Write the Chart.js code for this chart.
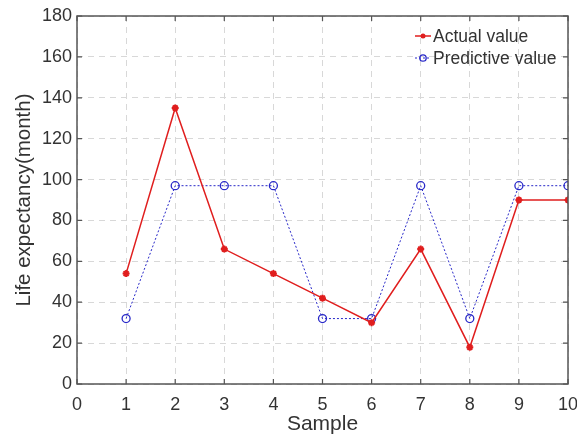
<!DOCTYPE html>
<html>
<head>
<meta charset="utf-8">
<script src="https://cdn.jsdelivr.net/npm/chart.js@4/dist/chart.umd.min.js"></script>
<style>
  html, body { margin: 0; padding: 0; background: #fff; }
  #wrap { width: 577px; height: 438px; position: relative; }
</style>
</head>
<body>
<div id="wrap"><canvas id="chart"></canvas></div>
<script>
// data
const samples = [1, 2, 3, 4, 5, 6, 7, 8, 9, 10];
const actualValues = [54, 135, 66, 54, 42, 30, 66, 18, 90, 90];
const predictiveValues = [32, 97, 97, 97, 32, 32, 97, 32, 97, 97];
const xTicks = [0, 1, 2, 3, 4, 5, 6, 7, 8, 9, 10];
const yTicks = [0, 20, 40, 60, 80, 100, 120, 140, 160, 180];

const RED = "#e01e1e";
const BLUE = "#2828c8";
const TEXT = "#333333";
const FONT = "Liberation Sans, Arial, sans-serif";

// box around the plot, inward ticks, legend
const boxPlugin = {
  id: "box",
  afterDraw(chart) {
    const ctx = chart.ctx;
    const a = chart.chartArea;
    const xs = chart.scales.x;
    const ys = chart.scales.y;
    ctx.save();
    ctx.strokeStyle = "#555";
    ctx.lineWidth = 1.5;
    ctx.strokeRect(a.left, a.top, a.right - a.left, a.bottom - a.top);
    ctx.lineWidth = 1.2;
    ctx.beginPath();
    xTicks.forEach((v) => {
      const px = xs.getPixelForValue(v);
      ctx.moveTo(px, a.bottom); ctx.lineTo(px, a.bottom - 5);
      ctx.moveTo(px, a.top); ctx.lineTo(px, a.top + 5);
    });
    yTicks.forEach((v) => {
      const py = ys.getPixelForValue(v);
      ctx.moveTo(a.left, py); ctx.lineTo(a.left + 5, py);
      ctx.moveTo(a.right, py); ctx.lineTo(a.right - 5, py);
    });
    ctx.stroke();

    // legend
    const lx = 415, tx = 433;
    const rows = [
      { label: "Actual value", color: RED, y: 36, dash: [], ds: 0 },
      { label: "Predictive value", color: BLUE, y: 58, dash: [2, 2], ds: 1 },
    ];
    ctx.font = "17.5px " + FONT;
    ctx.textBaseline = "middle";
    rows.forEach((r) => {
      ctx.strokeStyle = r.color;
      ctx.lineWidth = r.ds ? 1 : 1.5;
      ctx.setLineDash(r.dash);
      ctx.beginPath();
      ctx.moveTo(lx, r.y); ctx.lineTo(tx - 2, r.y);
      ctx.stroke();
      ctx.setLineDash([]);
      ctx.fillStyle = TEXT;
      ctx.fillText(r.label, tx, r.y + 1);
    });
    // markers
    ctx.fillStyle = RED;
    ctx.beginPath(); ctx.arc(423, 36, 2.5, 0, Math.PI * 2); ctx.fill();
    ctx.strokeStyle = BLUE; ctx.lineWidth = 1.3;
    ctx.beginPath(); ctx.arc(423, 58, 3.2, 0, Math.PI * 2); ctx.stroke();
    ctx.restore();
  },
};

new Chart(document.getElementById("chart"), {
  type: "line",
  data: {
    datasets: [
      {
        label: "Actual value",
        data: samples.map((s, i) => ({ x: s, y: actualValues[i] })),
        borderColor: RED,
        backgroundColor: RED,
        borderWidth: 1.5,
        pointStyle: "star",
        pointRadius: 3.5,
        pointBorderWidth: 2,
        pointBorderColor: RED,
        pointBackgroundColor: RED,
        tension: 0,
      },
      {
        label: "Predictive value",
        data: samples.map((s, i) => ({ x: s, y: predictiveValues[i] })),
        borderColor: BLUE,
        backgroundColor: "rgba(0,0,0,0)",
        borderWidth: 1,
        borderDash: [2, 2],
        pointStyle: "circle",
        pointRadius: 4,
        pointBorderWidth: 1.3,
        pointBorderColor: BLUE,
        pointBackgroundColor: "rgba(255,255,255,0)",
        tension: 0,
      },
    ],
  },
  options: {
    responsive: true,
    maintainAspectRatio: false,
    animation: false,
    events: [],
    layout: { padding: { top: 16, right: 9, left: 0, bottom: 0 } },
    plugins: { legend: { display: false }, tooltip: { enabled: false } },
    scales: {
      x: {
        type: "linear",
        min: 0,
        max: 10,
        afterBuildTicks: (s) => { s.ticks = xTicks.map((v) => ({ value: v })); },
        afterFit: (s) => { s.height = 54; s.paddingLeft = 0; s.paddingRight = 0; },
        ticks: { color: TEXT, font: { family: FONT, size: 18 }, padding: 10, maxRotation: 0 },
        grid: { color: "#d8d8d8", lineWidth: 1, drawTicks: false },
        border: { display: false, dash: [6, 5] },
        title: { display: true, text: "Sample", color: TEXT, font: { family: FONT, size: 21 }, padding: { top: 0, bottom: 1 } },
      },
      y: {
        type: "linear",
        min: 0,
        max: 180,
        afterBuildTicks: (s) => { s.ticks = yTicks.map((v) => ({ value: v })); },
        afterFit: (s) => { s.width = 77; s.paddingTop = 0; s.paddingBottom = 0; },
        ticks: { color: TEXT, font: { family: FONT, size: 18 }, padding: 5 },
        grid: { color: "#d8d8d8", lineWidth: 1, drawTicks: false },
        border: { display: false, dash: [6, 5] },
        title: { display: true, text: "Life expectancy(month)", color: TEXT, font: { family: FONT, size: 20.5 }, padding: { top: 12, bottom: 0 } },
      },
    },
  },
  plugins: [boxPlugin],
});
</script>
</body>
</html>
